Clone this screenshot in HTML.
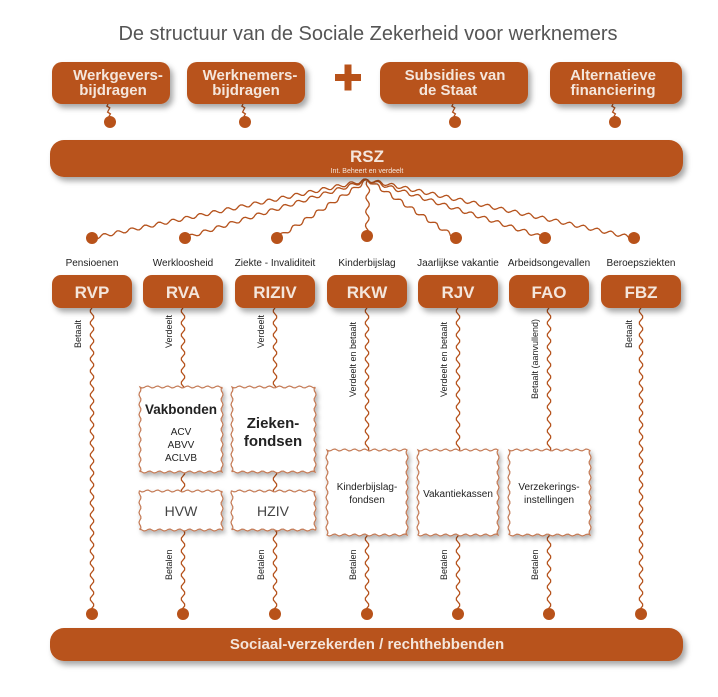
<!DOCTYPE html>
<html><head><meta charset="utf-8"><style>
html,body{margin:0;padding:0;background:#fff;}
svg{display:block;}
text{font-family:"Liberation Sans",sans-serif;}
.bt{fill:#f4e6dc;font-weight:bold;}
</style></head><body>
<svg id="s" width="718" height="697" viewBox="0 0 718 697" xmlns="http://www.w3.org/2000/svg">
<defs>
<filter id="sh" x="-10%" y="-30%" width="120%" height="170%"><feDropShadow dx="3" dy="4" stdDeviation="3" flood-color="#000" flood-opacity="0.35"/></filter>
<filter id="sh2" x="-10%" y="-10%" width="130%" height="130%"><feDropShadow dx="2" dy="3" stdDeviation="2.5" flood-color="#000" flood-opacity="0.3"/></filter>
</defs>
<text x="368" y="40" text-anchor="middle" font-size="20" fill="#555">De structuur van de Sociale Zekerheid voor werknemers</text>
<g id="lines" fill="none" stroke="#b5521c" stroke-width="1.3"></g>
<g filter="url(#sh)" fill="#b8521a">
<rect x="52" y="62" width="118" height="42" rx="10"/>
<rect x="187" y="62" width="118" height="42" rx="10"/>
<rect x="380" y="62" width="148" height="42" rx="10"/>
<rect x="550" y="62" width="132" height="42" rx="10"/>
<rect x="50" y="140" width="633" height="37" rx="14"/>
<rect x="52" y="275" width="80" height="33" rx="9"/>
<rect x="143" y="275" width="80" height="33" rx="9"/>
<rect x="235" y="275" width="80" height="33" rx="9"/>
<rect x="327" y="275" width="80" height="33" rx="9"/>
<rect x="418" y="275" width="80" height="33" rx="9"/>
<rect x="509" y="275" width="80" height="33" rx="9"/>
<rect x="601" y="275" width="80" height="33" rx="9"/>
<rect x="50" y="628" width="633" height="33" rx="14"/>
</g>
<rect x="335" y="74" width="26" height="7" fill="#b8521a"/><rect x="344.5" y="64.5" width="7" height="26" fill="#b8521a"/>
<g id="boxes" fill="#fff" stroke="#c47a55" stroke-width="1.2" filter="url(#sh2)"></g>
<g fill="#b8521a">
<circle cx="110" cy="122" r="6"/><circle cx="245" cy="122" r="6"/><circle cx="455" cy="122" r="6"/><circle cx="615" cy="122" r="6"/>
<circle cx="92" cy="238" r="6"/><circle cx="185" cy="238" r="6"/><circle cx="277" cy="238" r="6"/><circle cx="367" cy="236" r="6"/><circle cx="456" cy="238" r="6"/><circle cx="545" cy="238" r="6"/><circle cx="634" cy="238" r="6"/>
<circle cx="92" cy="614" r="6"/><circle cx="183" cy="614" r="6"/><circle cx="275" cy="614" r="6"/><circle cx="367" cy="614" r="6"/><circle cx="458" cy="614" r="6"/><circle cx="549" cy="614" r="6"/><circle cx="641" cy="614" r="6"/>
</g>
<g class="bt" font-size="15" text-anchor="middle">
<text x="118" y="80">Werkgevers-</text><text x="113" y="95">bijdragen</text>
<text x="250" y="80">Werknemers-</text><text x="246" y="95">bijdragen</text>
<text x="455" y="80">Subsidies van</text><text x="448" y="95">de Staat</text>
<text x="613" y="80">Alternatieve</text><text x="613" y="95">financiering</text>
<text x="367" y="162" font-size="17">RSZ</text>
<text x="367" y="173" font-size="7" font-weight="normal">Int. Beheert en verdeelt</text>
<g font-size="17"><text x="92" y="298">RVP</text><text x="183" y="298">RVA</text><text x="275" y="298">RIZIV</text><text x="367" y="298">RKW</text><text x="458" y="298">RJV</text><text x="549" y="298">FAO</text><text x="641" y="298">FBZ</text></g>
<text x="367" y="649" font-size="15">Sociaal-verzekerden / rechthebbenden</text>
</g>
<g font-size="10" text-anchor="middle" fill="#222">
<text x="92" y="266">Pensioenen</text><text x="183" y="266">Werkloosheid</text><text x="275" y="266">Ziekte - Invaliditeit</text><text x="367" y="266">Kinderbijslag</text><text x="458" y="266">Jaarlijkse vakantie</text><text x="549" y="266">Arbeidsongevallen</text><text x="641" y="266">Beroepsziekten</text>
</g>
<g font-size="9" fill="#222">
<text transform="translate(81,348) rotate(-90)">Betaalt</text>
<text transform="translate(172,348) rotate(-90)">Verdeelt</text>
<text transform="translate(264,348) rotate(-90)">Verdeelt</text>
<text transform="translate(356,397) rotate(-90)">Verdeelt en betaalt</text>
<text transform="translate(447,397) rotate(-90)">Verdeelt en betaalt</text>
<text transform="translate(538,399) rotate(-90)">Betaalt (aanvullend)</text>
<text transform="translate(632,348) rotate(-90)">Betaalt</text>
<text transform="translate(172,580) rotate(-90)">Betalen</text>
<text transform="translate(264,580) rotate(-90)">Betalen</text>
<text transform="translate(356,580) rotate(-90)">Betalen</text>
<text transform="translate(447,580) rotate(-90)">Betalen</text>
<text transform="translate(538,580) rotate(-90)">Betalen</text>
</g>
<g text-anchor="middle" fill="#222">
<text x="181" y="414" font-size="14" font-weight="bold" textLength="72" lengthAdjust="spacingAndGlyphs">Vakbonden</text>
<text x="181" y="435" font-size="10">ACV</text><text x="181" y="448" font-size="10">ABVV</text><text x="181" y="461" font-size="10">ACLVB</text>
<text x="273" y="428" font-size="15" font-weight="bold">Zieken-</text><text x="273" y="446" font-size="15" font-weight="bold">fondsen</text>
<text x="181" y="516" font-size="14" fill="#444">HVW</text><text x="273" y="516" font-size="14" fill="#444">HZIV</text>
<text x="367" y="490" font-size="10">Kinderbijslag-</text><text x="367" y="503" font-size="10">fondsen</text>
<text x="458" y="497" font-size="10">Vakantiekassen</text>
<text x="549" y="490" font-size="10">Verzekerings-</text><text x="549" y="503" font-size="10">instellingen</text>
</g>
</svg>
<script>
var NS="http://www.w3.org/2000/svg";
function wave(x1,y1,x2,y2,amp,wl){var dx=x2-x1,dy=y2-y1,L=Math.hypot(dx,dy),ux=dx/L,uy=dy/L,nx=-uy,ny=ux,d="M"+x1+" "+y1,n=Math.max(2,Math.round(L/2));for(var i=1;i<=n;i++){var t=i/n*L,o=amp*Math.sin(t/wl*2*Math.PI);d+=" L"+(x1+ux*t+nx*o).toFixed(1)+" "+(y1+uy*t+ny*o).toFixed(1);}return d;}
var g=document.getElementById("lines");
function add(d){var p=document.createElementNS(NS,"path");p.setAttribute("d",d);g.appendChild(p);}
[[110],[245],[455],[615]].forEach(function(a){add(wave(a[0]-2,104,a[0],122,1.5,6));});
[92,185,277,367,456,545,634].forEach(function(x){add(wave(368,180,x,238,1.8,14));});
var cx=[92,183,275,367,458,549,641];
cx.forEach(function(x){add(wave(x,308,x,614,1.8,12));});
var b=document.getElementById("boxes");
function box(x,y,w,h){var d=wave(x,y,x+w,y,1,10)+wave(x+w,y,x+w,y+h,1,10).replace("M"," L")+wave(x+w,y+h,x,y+h,1,10).replace("M"," L")+wave(x,y+h,x,y,1,10).replace("M"," L")+"Z";var p=document.createElementNS(NS,"path");p.setAttribute("d",d);b.appendChild(p);}
box(140,387,82,85);box(232,387,83,85);box(140,491,82,39);box(232,491,83,39);box(327,450,80,85);box(418,450,80,85);box(509,450,81,85);
</script>
</body></html>
